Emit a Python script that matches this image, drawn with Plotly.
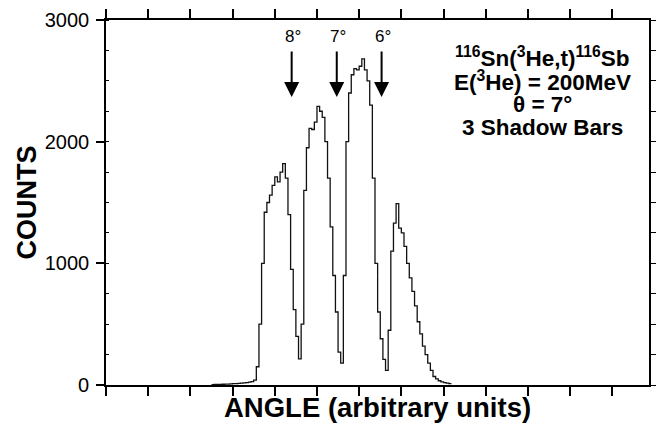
import plotly.graph_objects as go

# ---- data ----
channel_start = 40
counts = [3, 4, 4, 5, 6, 7, 8, 10, 11, 12,              # 40-49
          14, 16, 18, 20, 23, 27, 40, 150, 500, 1000,    # 50-59
          1420, 1500, 1560, 1640, 1710, 1670, 1750, 1820, 1700, 1400,  # 60-69
          950, 620, 400, 215, 500, 1600, 1950, 2110, 2100, 2160,       # 70-79
          2290, 2250, 2200, 2000, 1700, 1300, 900, 600, 270, 180,      # 80-89
          900, 2000, 2400, 2550, 2600, 2590, 2620, 2680, 2590, 2500,   # 90-99
          2300, 1700, 1000, 600, 380, 210, 120, 450, 1100, 1330,       # 100-109
          1490, 1290, 1250, 1140, 1000, 880, 770, 650, 520, 420,       # 110-119
          320, 250, 180, 120, 70, 50, 35, 25, 20, 15, 12]              # 120-130

x_ticks = list(range(0, 193, 16))
y_major = [0, 1000, 2000, 3000]
y_major_labels = ["0", "1000", "2000", "3000"]
y_right_ticks = list(range(0, 3001, 250))

arrow_labels = ["8°", "7°", "6°"]
arrow_channels = [70.4, 87.5, 104.5]

info_lines = ["<sup>116</sup>Sn(<sup>3</sup>He,t)<sup>116</sup>Sb",
              "E(<sup>3</sup>He) = 200MeV",
              "θ = 7°",
              "3 Shadow Bars"]
info_y = [2700, 2500, 2305, 2118]

# ---- build step histogram ----
xs = [channel_start + i for i in range(len(counts))] + [channel_start + len(counts)]
ys = counts + [counts[-1]]

FONT = "Liberation Sans, Arial, Helvetica, sans-serif"

fig = go.Figure()
fig.add_trace(go.Scatter(x=xs, y=ys, mode="lines", line=dict(shape="hv", color="#111111", width=1.3),
                         hoverinfo="skip", showlegend=False))
fig.add_trace(go.Scatter(x=[None], y=[None], yaxis="y2", showlegend=False))

fig.update_layout(
    width=661, height=431,
    margin=dict(l=106, r=12, t=20, b=46, autoexpand=False),
    plot_bgcolor="white", paper_bgcolor="white",
    showlegend=False,
    font=dict(family=FONT, color="black"),
    xaxis=dict(range=[0, 205.9], tickmode="array", tickvals=x_ticks, ticks="outside", ticklen=9,
               tickwidth=1.5, tickcolor="black", showticklabels=False, showline=True,
               linewidth=1.6, linecolor="black", mirror="ticks", showgrid=False, zeroline=False,
               automargin=False),
    yaxis=dict(range=[0, 3000], tickmode="array", tickvals=y_major, ticktext=y_major_labels,
               ticks="outside", ticklen=8, tickwidth=1.5, tickcolor="black",
               tickfont=dict(size=20, family=FONT, color="black"), ticklabelstandoff=3,
               showline=True, linewidth=1.6, linecolor="black", showgrid=False, zeroline=False,
               automargin=False,
               minor=dict(dtick=250, ticks="inside", ticklen=3, tickcolor="black", tickwidth=1.2,
                          showgrid=False)),
    yaxis2=dict(range=[0, 3000], overlaying="y", side="right", anchor="x", tickmode="array",
                tickvals=y_right_ticks, ticks="outside", ticklen=5, tickwidth=1.2, tickcolor="black",
                showticklabels=False, showline=True, linewidth=1.6, linecolor="black",
                showgrid=False, zeroline=False, automargin=False),
)

# axis titles
fig.add_annotation(text="<b>ANGLE (arbitrary units)</b>", xref="paper", yref="paper",
                   x=0.5, y=-0.063, xanchor="center", yanchor="middle", showarrow=False,
                   font=dict(size=27.5, family=FONT, color="black"))
fig.add_annotation(text="<b>COUNTS</b>", xref="paper", yref="paper",
                   x=-0.1455, y=0.5, xanchor="center", yanchor="middle", textangle=-90,
                   showarrow=False, font=dict(size=27, family=FONT, color="black"))

# arrows with angle labels
for lab, ch in zip(arrow_labels, arrow_channels):
    fig.add_annotation(x=ch, y=2367, ax=ch, ay=2754, xref="x", yref="y", axref="x", ayref="y",
                       text="", showarrow=True, arrowhead=2, arrowsize=1.5, arrowwidth=2,
                       arrowcolor="black")
    fig.add_annotation(x=ch + 0.6, y=2865, xref="x", yref="y", text=lab, showarrow=False,
                       xanchor="center", yanchor="middle",
                       font=dict(size=17, family=FONT, color="black"))

# info text block
for line, yy in zip(info_lines, info_y):
    fig.add_annotation(x=165.5, y=yy, xref="x", yref="y", text="<b>" + line + "</b>",
                       showarrow=False, xanchor="center", yanchor="middle",
                       font=dict(size=22.5, family=FONT, color="black"))

fig.write_html("out.html")
